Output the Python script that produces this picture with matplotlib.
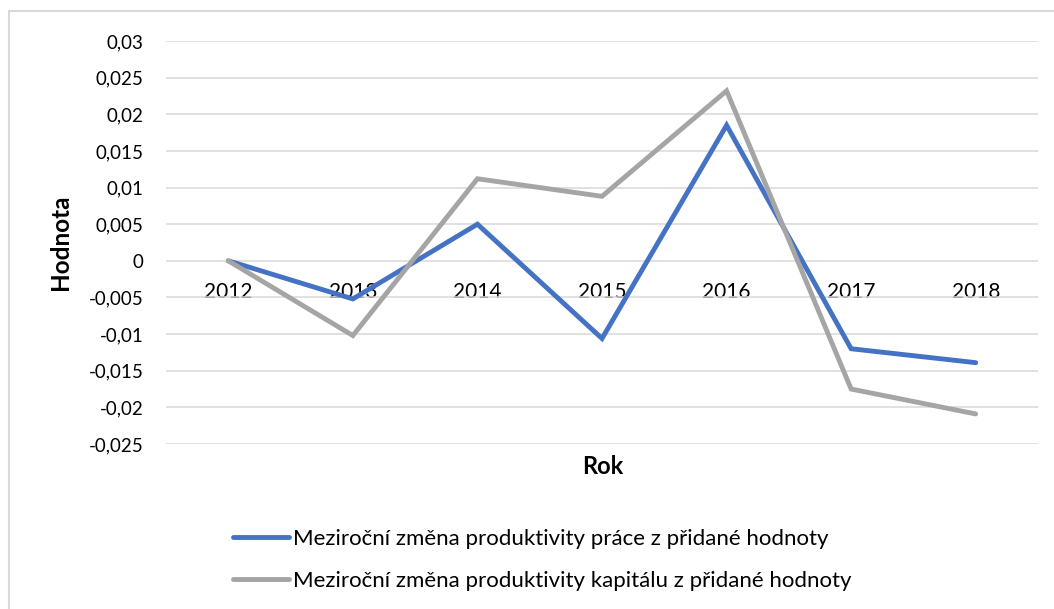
import matplotlib
matplotlib.use('Agg')
import matplotlib.pyplot as plt
from matplotlib.patches import Rectangle

plt.rcParams['font.family'] = ['Lato', 'DejaVu Sans']

years = ['2012', '2013', '2014', '2015', '2016', '2017', '2018']
prace = [0.0, -0.0052, 0.0050, -0.0106, 0.0185, -0.0120, -0.0139]
kapital = [0.0, -0.0102, 0.0112, 0.0088, 0.0232, -0.0175, -0.0209]
y_ticks = [0.03, 0.025, 0.02, 0.015, 0.01, 0.005, 0, -0.005, -0.01, -0.015, -0.02, -0.025]
y_labels = ['0,03', '0,025', '0,02', '0,015', '0,01', '0,005', '0',
            '-0,005', '-0,01', '-0,015', '-0,02', '-0,025']
legend_labels = ['Meziroční změna produktivity práce z přidané hodnoty',
                 'Meziroční změna produktivity kapitálu z přidané hodnoty']

W, H = 1054, 609
fig = plt.figure(figsize=(W / 100, H / 100), dpi=100)

# chart frame (Excel-like light border, cut off at right and bottom)
fig.patches.append(Rectangle((9 / W, -0.05), 1.1, 1 - 11 / H + 0.05,
                             transform=fig.transFigure, fill=False,
                             edgecolor='#D9D9D9', linewidth=1.5))

ax = fig.add_axes([166 / W, 1 - 444 / H, (1038 - 166) / W, (444 - 41) / H])
x = list(range(len(years)))
l1, = ax.plot(x, prace, color='#4472C4', linewidth=3.5, solid_capstyle='round',
              solid_joinstyle='miter', zorder=3)
l2, = ax.plot(x, kapital, color='#A5A5A5', linewidth=3.5, solid_capstyle='round',
              solid_joinstyle='miter', zorder=3)

ax.set_xlim(-0.5, len(years) - 0.5)
ax.set_ylim(-0.025, 0.03)
ax.set_yticks(y_ticks)
ax.set_yticklabels(y_labels)
ax.set_xticks(x)
ax.set_xticklabels(years)
ax.grid(axis='y', color='#D9D9D9', linewidth=1.1)
ax.set_axisbelow(True)
for s in ax.spines.values():
    s.set_visible(False)
ax.spines['bottom'].set_position(('data', 0))
ax.tick_params(axis='both', length=0, colors='black')
ax.tick_params(axis='y', pad=16, labelsize=13.5)
ax.tick_params(axis='x', pad=15, labelsize=15)

fig.text(60 / W, 1 - 242 / H, 'Hodnota', rotation=90, ha='center', va='center',
         fontsize=17.5, fontweight='bold')
fig.text(603 / W, 1 - 466 / H, 'Rok', ha='center', va='center',
         fontsize=17, fontweight='bold')

fig.legend([l1, l2], legend_labels, loc='upper left',
           bbox_to_anchor=(233 / W, 1 - 529 / H), frameon=False, fontsize=16,
           borderpad=0, borderaxespad=0,
           handlelength=2.5, handletextpad=0.22, labelspacing=1.0)

fig.savefig('out.png', dpi=100)
